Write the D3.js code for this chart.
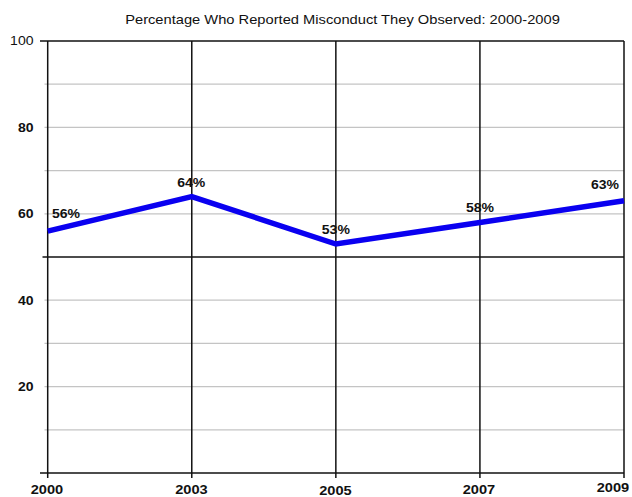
<!DOCTYPE html>
<html><head><meta charset="utf-8">
<script src="https://cdn.jsdelivr.net/npm/d3@7"></script>
<style>body{margin:0;background:#fff}svg{display:block}text{font-family:"Liberation Sans",Arial,sans-serif}</style>
</head><body><svg id="c" width="632" height="497"></svg>
<script>
const title = "Percentage Who Reported Misconduct They Observed: 2000-2009";
const years = ["2000","2003","2005","2007","2009"];
const values = [56, 64, 53, 58, 63];
const valueLabels = ["56%","64%","53%","58%","63%"];
const yTickLabels = [20, 40, 60, 80, 100];
const minorGrid = [10, 20, 30, 40, 60, 70, 80, 90];
const majorGrid = [50, 100];

const svg = d3.select("#c");
const x = d3.scalePoint().domain(years).range([47.7, 624]);
const y = d3.scaleLinear().domain([0, 100]).range([473, 41]);
const SX = 1.17;

svg.append("text").attr("transform", "translate(342.5,24) scale(1.13,1)").attr("text-anchor", "middle")
  .attr("font-size", 13).attr("fill", "#111").text(title);

// minor gridlines
svg.append("g").selectAll("line").data(minorGrid).join("line")
  .attr("x1", 44.5).attr("x2", x("2009")).attr("y1", d => y(d)).attr("y2", d => y(d))
  .attr("stroke", "#c4c4c4").attr("stroke-width", 1.2);
// major gridlines
svg.append("g").selectAll("line").data(majorGrid).join("line")
  .attr("x1", d => d === 100 ? 40 : 42.5).attr("x2", x("2009")).attr("y1", d => y(d)).attr("y2", d => y(d))
  .attr("stroke", "#111").attr("stroke-width", 1.5);
// bottom axis line
svg.append("line").attr("x1", 40).attr("x2", x("2009")).attr("y1", y(0)).attr("y2", y(0))
  .attr("stroke", "#111").attr("stroke-width", 1.5);
// vertical lines
svg.append("g").selectAll("line").data(years).join("line")
  .attr("x1", d => x(d)).attr("x2", d => x(d)).attr("y1", y(100)).attr("y2", y(0) + 5)
  .attr("stroke", "#111").attr("stroke-width", 1.5);

// y labels
svg.append("g").selectAll("text").data(yTickLabels).join("text")
  .attr("transform", d => `translate(33.5,${y(d) + 4.4}) scale(${SX},1)`).attr("text-anchor", "end")
  .attr("font-size", 12).attr("font-weight", d => d === 100 ? "normal" : "bold")
  .attr("fill", "#111").text(d => d);

// x labels
const xLblX = [47, 191.5, 335.5, 479, 613];
const xLblY = [494, 494, 495, 494, 492];
svg.append("g").selectAll("text").data(years).join("text")
  .attr("transform", (d, i) => `translate(${xLblX[i]},${xLblY[i]}) scale(${SX},1)`).attr("text-anchor", "middle")
  .attr("font-size", 12.5).attr("font-weight", "bold").attr("fill", "#111").text(d => d);

// line
const pts = years.map((yr, i) => [yr, values[i]]);
svg.append("path").datum(pts)
  .attr("d", d3.line().x(d => x(d[0])).y(d => y(d[1])))
  .attr("fill", "none").attr("stroke", "#0a00f0").attr("stroke-width", 5.5).attr("stroke-linejoin", "miter");

// value labels
const lblDx = [18.3, -0.5, 0, 0, -19];
const lblDy = [-12.7, -10, -10, -10, -12];
svg.append("g").selectAll("text").data(pts).join("text")
  .attr("transform", (d, i) => `translate(${x(d[0]) + lblDx[i]},${y(d[1]) + lblDy[i]}) scale(${SX},1)`)
  .attr("text-anchor", "middle").attr("font-size", 12).attr("font-weight", "bold")
  .attr("fill", "#111").text((d, i) => valueLabels[i]);
</script></body></html>
